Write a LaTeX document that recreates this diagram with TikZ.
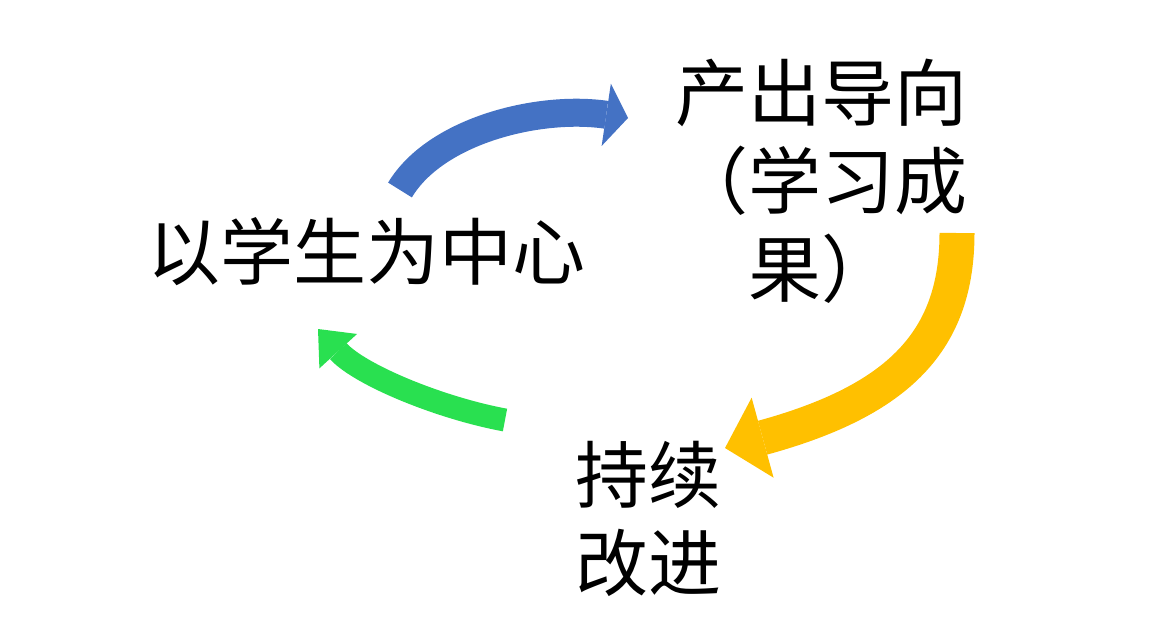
\documentclass[tikz,border=0pt]{standalone}
\usepackage{fontspec}
\newfontfamily\cjk{Noto Sans CJK SC}
\usetikzlibrary{arrows.meta}
\definecolor{arrblue}{RGB}{68,114,196}
\definecolor{arryellow}{RGB}{255,192,0}
\definecolor{arrgreen}{RGB}{41,224,80}
\tikzset{
  label text/.style={inner sep=0pt, align=center, font=\cjk\fontsize{73}{88}\selectfont},
  bluearrow/.style={draw=arrblue, line width=28pt, line cap=butt,
     -{Triangle[length=22pt,width=63pt,line width=0pt]}},
  yellowarrow/.style={draw=arryellow, line width=35pt, line cap=butt,
     -{Triangle[length=39pt,width=83pt,line width=0pt]}},
  greenarrow/.style={draw=arrgreen, line width=23pt, line cap=butt,
     -{Triangle[length=30pt,width=51pt,line width=0pt]}}
}
\begin{document}
\begin{tikzpicture}[x=1pt,y=-1pt]
\useasboundingbox (0,0) rectangle (1174,630);
\node[label text] (student) at (366,252) {以学生为中心};
\node[label text] (output) at (821,181) {产出导向\\（学习成\\果）};
\node[label text] (improve) at (648,519) {持续\\改进};
% arrow end points
\coordinate (b0) at (400,190);
\coordinate (b1) at (628,118);
\coordinate (y0) at (957,233);
\coordinate (y1) at (725,448);
\coordinate (g0) at (505,420);
\coordinate (g1) at (318,329);
\draw[bluearrow] (b0) .. controls (436,130) and (540,105) .. (b1);
\draw[yellowarrow] (y0) .. controls (957,340) and (900,400) .. (y1);
\draw[greenarrow] (g0) .. controls (440,408) and (360,375) .. (g1);
\end{tikzpicture}
\end{document}
